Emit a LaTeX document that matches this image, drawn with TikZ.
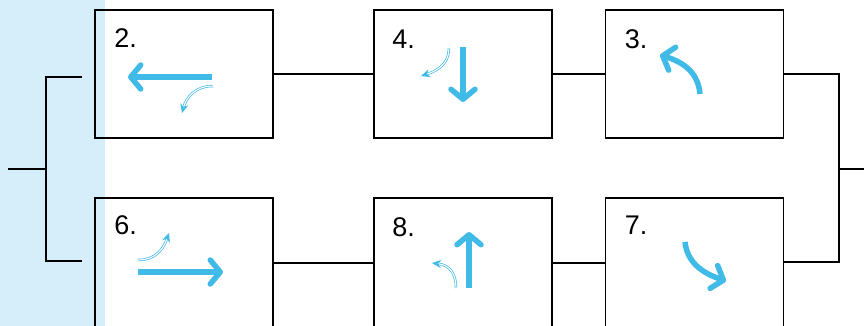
\documentclass[tikz,border=0pt]{standalone}
\usepackage{fontspec}
\setmainfont{Liberation Sans}
\usetikzlibrary{arrows.meta}
\definecolor{arrowblue}{RGB}{64,186,230}
\definecolor{paleblue}{RGB}{214,238,250}

\begin{document}
\begin{tikzpicture}[x=1pt,y=-1pt]
    \tikzset{%
      box/.style={draw, line width=1.5pt, minimum width=178pt,
        minimum height=128pt, inner sep=0pt},
      lowbox/.style={box, minimum height=130pt},
      num/.style={anchor=base west, inner sep=0pt,
        font=\fontsize{27}{30}\selectfont},
      wire/.style={line width=2.4pt},
      big/.style={arrowblue, line width=5.5pt,
        -{Straight Barb[length=10pt,width=24pt,round]}},
      small/.style={arrowblue, double, line width=0.7pt,
        double distance=1.1pt, -{Stealth[length=9pt,width=8pt]}},
    }
    \clip (0,0) rectangle (864,326);
    \fill [paleblue] (0,0) rectangle (105,326);

    % top row
    \node[box] (B2) at (184,74) {};
    \node[box] (B4) at (463,74) {};
    \node[box] (B3) at (694.5,74) {};
    % bottom row
    \node[lowbox] (B6) at (184,263) {};
    \node[lowbox] (B8) at (463,263) {};
    \node[lowbox] (B7) at (694.5,263) {};

    \node[num] (N2) at ([xshift=20pt,yshift=-38pt]B2.north west) {2.};
    \node[num] (N4) at ([xshift=19pt,yshift=-39pt]B4.north west) {4.};
    \node[num] (N3) at ([xshift=20pt,yshift=-39pt]B3.north west) {3.};
    \node[num] (N6) at ([xshift=20pt,yshift=-37pt]B6.north west) {6.};
    \node[num] (N8) at ([xshift=19pt,yshift=-39pt]B8.north west) {8.};
    \node[num] (N7) at ([xshift=20pt,yshift=-37pt]B7.north west) {7.};

    \draw [wire] (B2) -- (B4);
    \draw [wire] (B4) -- (B3);
    \draw [wire] (B6) -- (B8);
    \draw [wire] (B8) -- (B7);

    % left bracket
    \coordinate (L1) at (82,77);
    \coordinate (L2) at (82,261);
    \coordinate (L0) at (8,169);
    \draw [wire] (L1) -- (46,77) -- (46,261) -- (L2);
    \draw [wire] (L0) -- (46,169);
    % right bracket
    \coordinate (R0) at (864,169);
    \draw [wire] (B3.east) -- (839,74) -- (839,262) -- (B7.east |- 0,262);
    \draw [wire] (839,169) -- (R0);

    % 2.
    \draw [big] (212,77) -- (128,77);
    \draw [small] (213,86) .. controls (195,86) and (186,98) .. (182,113);
    % 4.
    \draw [big] (463,47) -- (463,102);
    \draw [small] (449,48) .. controls (449,62) and (440,70) .. (421,76);
    % 3.
    \draw [big] (700,94) .. controls (698,72) and (683,62) .. (660,55);
    % 6.
    \draw [big] (138,272) -- (223,272);
    \draw [small] (138,260) .. controls (155,260) and (163,250) .. (169,233);
    % 8.
    \draw [big] (469,288) -- (469,232);
    \draw [small] (456,288) .. controls (456,274) and (450,265) .. (432,263);
    % 7.
    \draw [big] (685,242) .. controls (687,262) and (702,273) .. (726,281);
\end{tikzpicture}
\end{document}
